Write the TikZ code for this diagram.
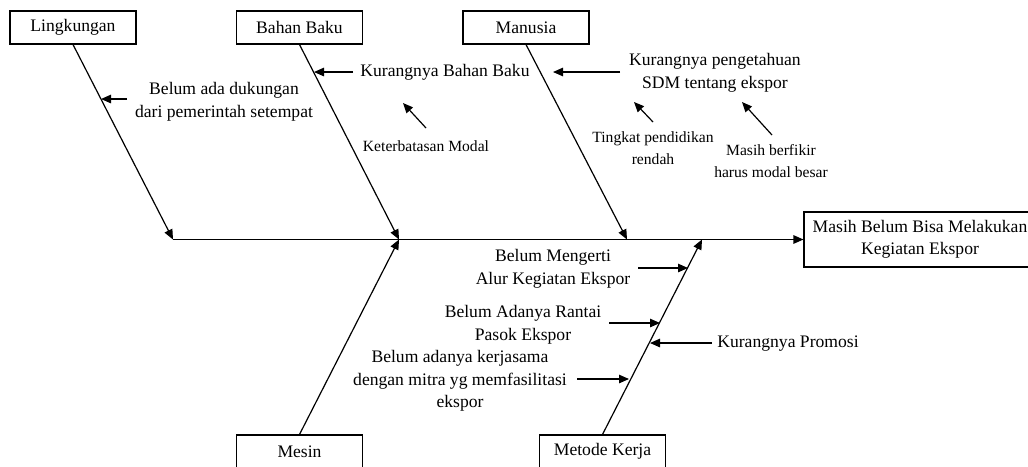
\documentclass[tikz,border=0pt]{standalone}
\usepackage{fontspec}
\setmainfont{Liberation Serif}
\usetikzlibrary{arrows.meta}
\begin{document}
\begin{tikzpicture}[x=1pt,y=-1pt,line width=1.2pt,
  cat/.style={draw,line width=1.1pt,minimum width=126pt,minimum height=33pt,inner sep=0pt,font=\fontsize{17.6}{22.5}\selectfont},
  lbl/.style={inner sep=0pt,align=center,font=\fontsize{17.6}{22.5}\selectfont},
  slbl/.style={inner sep=0pt,align=center,font=\fontsize{15.6}{21.5}\selectfont},
  arr/.style={-{Triangle[length=10pt,width=8.5pt]}}]
\useasboundingbox (0,0) rectangle (1028,466);
\clip (0,0) rectangle (1028,466);
% category boxes
\node[cat] (ling) at (73,27.5) {Lingkungan};
\node[cat] (bahan) at (299.5,27.5) {Bahan Baku};
\node[cat] (manusia) at (526,27.5) {Manusia};
\node[cat] (mesin) at (299.5,451.5) {Mesin};
\node[cat] (metode) at (602.5,451.5) {Metode Kerja};
\node[draw,line width=1.1pt,minimum width=232pt,minimum height=55pt,inner sep=0pt,align=center,font=\fontsize{17.6}{22.5}\selectfont] (res) at (920,239.5) {Masih Belum Bisa Melakukan\\Kegiatan Ekspor};
% spine points
\coordinate (sL) at (173,239.5);
\coordinate (sB) at (399,239.5);
\coordinate (sM) at (627,239.5);
\coordinate (sK) at (702,239.5);
\draw[arr] (sL) -- (res.west);
\draw[arr] (ling.south) -- (sL);
\draw[arr] (bahan.south) -- (sB);
\draw[arr] (manusia.south) -- (sM);
\draw[arr] (mesin.north) -- (sB);
\draw[arr] (metode.north) -- (sK);
% texts
\node[lbl] (t1) at (224,102) {Belum ada dukungan\\dari pemerintah setempat};
\node[lbl] (t2) at (445,72.5) {Kurangnya Bahan Baku};
\node[slbl] (t3) at (426,146) {Keterbatasan Modal};
\node[lbl] (t4) at (715,73) {Kurangnya pengetahuan\\SDM tentang ekspor};
\node[slbl] (t5) at (653,148) {Tingkat pendidikan\\rendah};
\node[slbl] (t6) at (771,161) {Masih berfikir\\harus modal besar};
\node[lbl] (t7) at (553,269) {Belum Mengerti\\Alur Kegiatan Ekspor};
\node[lbl] (t8) at (523,325) {Belum Adanya Rantai\\Pasok Ekspor};
\node[lbl] (t9) at (460,381) {Belum adanya kerjasama\\dengan mitra yg memfasilitasi\\ekspor};
\node[lbl] (t10) at (788,344) {Kurangnya Promosi};
% sub arrows
\coordinate (a1s) at (127,99);   \coordinate (a1e) at (101,99);
\coordinate (a2s) at (353,72);   \coordinate (a2e) at (314,72);
\coordinate (a3s) at (426,128);  \coordinate (a3e) at (403,103);
\coordinate (a4s) at (620,72);   \coordinate (a4e) at (553,72);
\coordinate (a5s) at (653,122);  \coordinate (a5e) at (634,102);
\coordinate (a6s) at (772,135);  \coordinate (a6e) at (742,102);
\coordinate (a7s) at (638,268);  \coordinate (a7e) at (688,268);
\coordinate (a8s) at (609,323);  \coordinate (a8e) at (660,323);
\coordinate (a9s) at (577,379);  \coordinate (a9e) at (629,379);
\coordinate (a10s) at (712,343); \coordinate (a10e) at (650,343);
\foreach \i in {1,...,10}{\draw[arr] (a\i s) -- (a\i e);}
\end{tikzpicture}
\end{document}
